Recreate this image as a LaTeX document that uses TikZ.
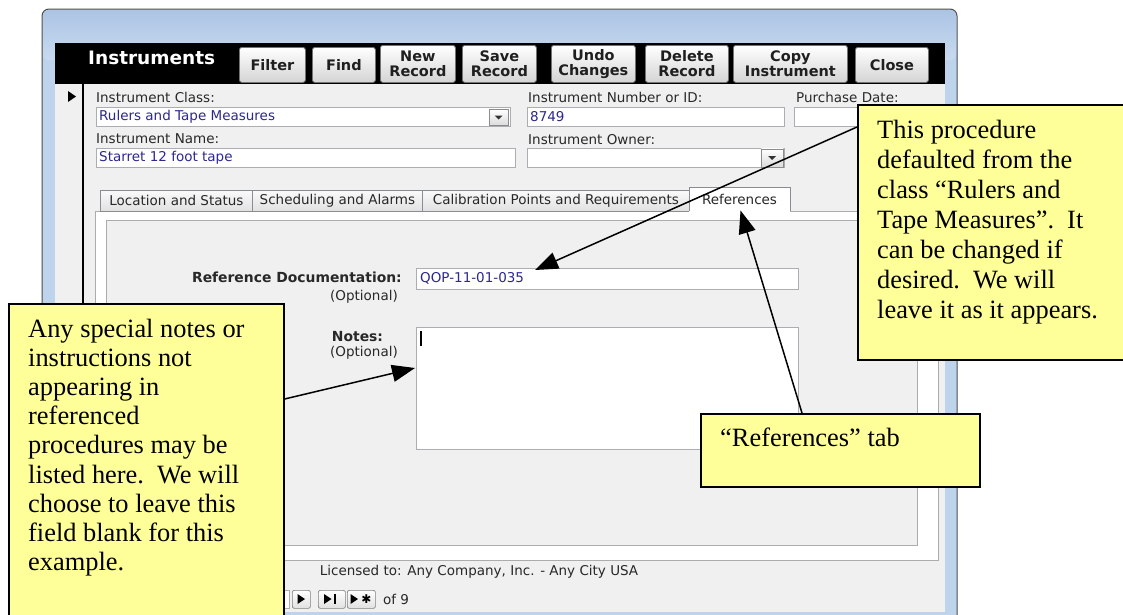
\documentclass[tikz,border=0pt]{standalone}
\usepackage{fontspec}
\setmainfont{Liberation Serif}
\newfontfamily\uifont{DejaVu Sans}
\usetikzlibrary{arrows.meta,calc}
\definecolor{winblue}{RGB}{190,211,236}
\definecolor{wintop}{RGB}{172,196,228}
\definecolor{winbot}{RGB}{200,218,240}
\definecolor{formbg}{RGB}{240,240,240}
\definecolor{fieldtxt}{RGB}{45,40,140}
\definecolor{fieldline}{RGB}{171,173,179}
\definecolor{calloutyellow}{RGB}{255,255,153}
\definecolor{tabline}{RGB}{137,140,149}
\definecolor{paneline}{RGB}{172,172,172}
\definecolor{labeltxt}{RGB}{40,40,40}
\tikzset{
 uilabel/.style={font=\uifont\fontsize{13.5}{15}\selectfont, text=labeltxt, inner sep=0pt, anchor=west},
 uivalue/.style={uilabel, text=fieldtxt},
 uibold/.style={font=\uifont\bfseries\fontsize{13.9}{15}\selectfont, text=labeltxt, inner sep=0pt},
 fieldbox/.style={draw=fieldline, fill=white, line width=0.9pt, inner sep=0pt, anchor=north west},
 toolbtn/.style={draw=black!55, rounded corners=2.5pt, top color=white, bottom color=black!17, line width=0.8pt, anchor=north west, inner sep=0pt, align=center, font=\uifont\bfseries\fontsize{14.5}{15}\selectfont, text=black!88},
 tabbox/.style={draw=tabline, top color=black!2, bottom color=black!12, line width=0.8pt, anchor=north west, inner sep=0pt, font=\uifont\fontsize{13.5}{15}\selectfont, text=labeltxt},
 ddbtn/.style={draw=black!45, top color=white, bottom color=black!14, line width=0.7pt, anchor=north west, inner sep=0pt},
 navbtn/.style={draw=black!50, rounded corners=2pt, top color=white, bottom color=black!12, line width=0.7pt, anchor=north west, inner sep=0pt},
 callbox/.style={draw=black, fill=calloutyellow, line width=1.6pt, anchor=north west, inner sep=0pt},
 calltext/.style={font=\fontsize{26.4}{30}\selectfont, anchor=base west, inner sep=0pt},
 pointer/.style={-{Triangle[length=23pt,width=17pt]}, line width=1.5pt},
}
\begin{document}
\begin{tikzpicture}[x=1pt,y=-1pt]
\useasboundingbox (0,0) rectangle (1123,614);
\clip (0,0) rectangle (1123,614);
\fill[white] (0,0) rectangle (1123,614);

% window frame
\draw[black!70, line width=1pt, fill=winblue, rounded corners=7pt] (42,9) rectangle (957,660);
\shade[top color=wintop, bottom color=winbot, rounded corners=6pt] (43,10) rectangle (956,60);
\fill[black] (55,43) rectangle (945,84);
\fill[formbg] (55,84) rectangle (945,614);
\draw[black, line width=1.2pt] (83,84) -- (83,560);
\fill[black] (68,91) -- (76,96.5) -- (68,102) -- cycle;
\draw[winblue, line width=2pt] (55,613) -- (945,613);

% toolbar
\node[font=\uifont\bfseries\fontsize{18.5}{20}\selectfont, text=white, anchor=west, inner sep=0pt] (title) at (88,58) {Instruments};
\node[toolbtn, minimum width=66pt, minimum height=35pt] (bfilter) at (239,47) {Filter};
\node[toolbtn, minimum width=63pt, minimum height=35pt] (bfind) at (312,47) {Find};
\node[toolbtn, minimum width=75pt, minimum height=37pt] (bnew) at (380,45) {New\\Record};
\node[toolbtn, minimum width=74pt, minimum height=37pt] (bsave) at (462,45) {Save\\Record};
\node[toolbtn, minimum width=84pt, minimum height=37pt] (bundo) at (551,45) {Undo\\Changes};
\node[toolbtn, minimum width=83pt, minimum height=37pt] (bdel) at (645,45) {Delete\\Record};
\node[toolbtn, minimum width=114pt, minimum height=37pt] (bcopy) at (733,45) {Copy\\Instrument};
\node[toolbtn, minimum width=73pt, minimum height=35pt] (bclose) at (855,47) {Close};

% header fields
\node[uilabel] (lclass) at (96,97) {Instrument Class:};
\node[fieldbox, minimum width=414pt, minimum height=19pt] (fclass) at (96,107) {};
\node[uivalue] (vclass) at (99,117) {Rulers and Tape Measures};
\node[ddbtn, minimum width=19pt, minimum height=16pt] (dd1) at (489,109) {};
\fill[black!80] (494.5,115.5) -- (502.5,115.5) -- (498.5,119.5) -- cycle;

\node[uilabel] (lnum) at (528,97) {Instrument Number or ID:};
\node[fieldbox, minimum width=257pt, minimum height=19pt] (fnum) at (527,107) {};
\node[uivalue] (vnum) at (530,117) {8749};

\node[uilabel] (ldate) at (796,97) {Purchase Date:};
\node[fieldbox, minimum width=80pt, minimum height=19pt] (fdate) at (794,107) {};

\node[uilabel] (lname) at (96,139) {Instrument Name:};
\node[fieldbox, minimum width=419pt, minimum height=19pt] (fname) at (96,148) {};
\node[uivalue] (vname) at (99,158) {Starret 12 foot tape};

\node[uilabel] (lowner) at (528,140) {Instrument Owner:};
\node[fieldbox, minimum width=257pt, minimum height=19pt] (fowner) at (527,148) {};
\node[ddbtn, minimum width=22pt, minimum height=18pt] (dd2) at (761,148.5) {};
\fill[black!80] (768,156) -- (776,156) -- (772,160) -- cycle;

% tab control
\node[draw=paneline, fill=white, line width=0.8pt, anchor=north west, inner sep=0pt, minimum width=843pt, minimum height=349pt] (page) at (95,211) {};
\node[draw=paneline, fill=formbg, line width=0.8pt, anchor=north west, inner sep=0pt, minimum width=811pt, minimum height=325pt] (inner) at (106,220) {};
\node[tabbox, minimum width=152pt, minimum height=21pt] (tab1) at (100,190) {Location and Status};
\node[tabbox, minimum width=170pt, minimum height=21pt] (tab2) at (252,190) {Scheduling and Alarms};
\node[tabbox, minimum width=267pt, minimum height=21pt] (tab3) at (422,190) {Calibration Points and Requirements};
\fill[white] (689,187) rectangle (790,212);
\draw[tabline, line width=0.8pt] (689,211) -- (689,187) -- (790,187) -- (790,211);
\node[uilabel, anchor=center] (tabref) at (739.5,199) {References};

% references page
\node[uibold, anchor=east] (lref) at (402,277) {Reference Documentation:};
\node[uilabel, anchor=east] (lrefopt) at (398,297) {(Optional)};
\node[fieldbox, minimum width=382pt, minimum height=21pt] (fref) at (416,268) {};
\node[uivalue] (vref) at (420,278.5) {QOP-11-01-035};
\node[uibold, anchor=center] (lnotes) at (357.5,337) {Notes:};
\node[uilabel, anchor=east] (lnotesopt) at (398,353) {(Optional)};
\node[fieldbox, minimum width=382pt, minimum height=122pt] (fnotes) at (416,327) {};
\fill[black] (420,331) rectangle (422.2,346);

% footer
\node[uilabel, anchor=center] (lic) at (479,572) {Licensed to: Any Company, Inc. - Any City USA};
\node[fieldbox, minimum width=40pt, minimum height=18pt] (recno) at (249,590) {};
\node[navbtn, minimum width=18pt, minimum height=18pt] (nnext) at (292,590) {};
\fill[black] (297.5,594) -- (305,599) -- (297.5,604) -- cycle;
\node[navbtn, minimum width=27pt, minimum height=18pt] (nlast) at (318,590) {};
\fill[black] (324,594) -- (331.5,599) -- (324,604) -- cycle;
\fill[black] (333.5,594) rectangle (335.8,604);
\node[navbtn, minimum width=28pt, minimum height=18pt] (nnew) at (347,590) {};
\fill[black] (350.5,594) -- (358,599) -- (350.5,604) -- cycle;
\node[font=\uifont\fontsize{12}{12}\selectfont, inner sep=0pt] (nstar) at (366.5,599) {✱};
\node[uilabel] (lof) at (383,599) {of 9};

% callouts
\node[callbox, minimum width=275pt, minimum height=255pt] (c1) at (857,104) {};
\foreach \t [count=\i from 0] in {This procedure, defaulted from the, {class “Rulers and}, {Tape Measures”.\hspace{13pt}It}, can be changed if, {desired.\hspace{13pt}We will}, leave it as it appears.}
  {\node[calltext] (c1l\i) at (877,138+30.1*\i) {\t};}

\node[callbox, minimum width=275pt, minimum height=340pt] (c2) at (8,303) {};
\foreach \t [count=\i from 0] in {Any special notes or, instructions not, appearing in, referenced, procedures may be, {listed here.\hspace{13pt}We will}, choose to leave this, field blank for this, example.}
  {\node[calltext] (c2l\i) at (28,337+29.2*\i) {\t};}

\node[callbox, minimum width=279pt, minimum height=73pt] (c3) at (700,413) {};
\node[calltext] (c3l) at (720,446.5) {“References” tab};

% pointers
\coordinate (p1s) at ($(c1.north west)+(0,23)$);
\coordinate (p1e) at ($(fref.north west)+(119,2)$);
\coordinate (p2s) at ($(c2.north east)+(0,96)$);
\coordinate (p2e) at ($(fnotes.north west)+(-1,41)$);
\coordinate (p3s) at ($(c3.north west)+(102,0)$);
\coordinate (p3e) at ($(tabref.south)+(1,6)$);
\draw[pointer] (p1s) -- (p1e);
\draw[pointer] (p2s) -- (p2e);
\draw[pointer] (p3s) -- (p3e);
\end{tikzpicture}
\end{document}
